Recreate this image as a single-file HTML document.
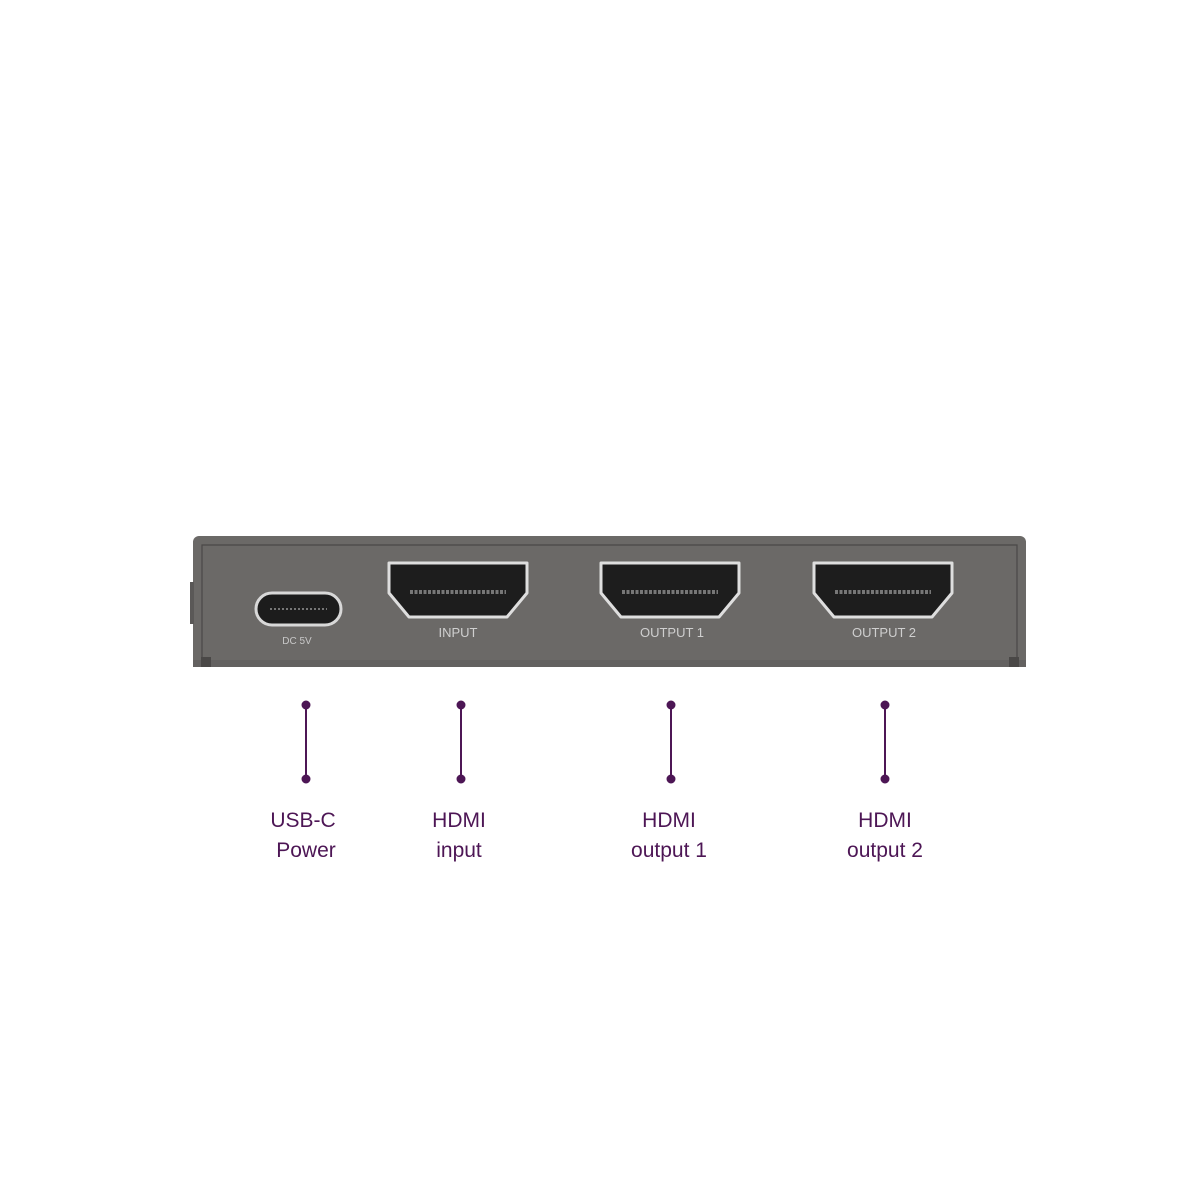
<!DOCTYPE html>
<html><head><style>body{margin:0;background:#fff}svg{display:block}</style></head><body>
<svg width="1200" height="1200" viewBox="0 0 1200 1200" xmlns="http://www.w3.org/2000/svg">
<rect width="1200" height="1200" fill="#fff"/>
<rect x="193" y="536" width="833" height="131" rx="6" fill="#6b6967"/>
<rect x="193" y="660" width="833" height="7" fill="#636160"/>
<path d="M202 667 V545 H1017 V667" fill="none" stroke="#4a4847" stroke-width="1.2"/>
<rect x="201" y="657" width="10" height="10" fill="#4a4847"/>
<rect x="1009" y="657" width="10" height="10" fill="#4a4847"/>
<rect x="190" y="582" width="4" height="42" fill="#5a5857"/>
<!-- USB-C -->
<rect x="256" y="593" width="85" height="32" rx="16" fill="#1c1c1c" stroke="#d8d8d8" stroke-width="3"/>
<line x1="270" y1="609" x2="327" y2="609" stroke="#777" stroke-width="2" stroke-dasharray="2 2"/>
<text x="297" y="644" font-family="Liberation Sans, sans-serif" font-size="10" fill="#c8c8c8" text-anchor="middle">DC 5V</text>
<!-- HDMI ports -->
<g id="h">
<path d="M389 563 H527 V593 L507 617 H409 L389 593 Z" fill="#1d1d1d" stroke="#dedede" stroke-width="3" stroke-linejoin="round"/>
<line x1="410" y1="592" x2="506" y2="592" stroke="#777" stroke-width="4" stroke-dasharray="3 1.5"/>
</g>
<use href="#h" x="212"/>
<use href="#h" x="425"/>
<g font-family="Liberation Sans, sans-serif" font-size="13" fill="#cfcfcf" text-anchor="middle">
<text x="458" y="637">INPUT</text>
<text x="672" y="637">OUTPUT 1</text>
<text x="884" y="637">OUTPUT 2</text>
</g>
<!-- connectors -->
<g stroke="#4d1655" stroke-width="2" fill="#4d1655">
<line x1="306" y1="705" x2="306" y2="779"/><circle cx="306" cy="705" r="3.5"/><circle cx="306" cy="779" r="3.5"/>
<line x1="461" y1="705" x2="461" y2="779"/><circle cx="461" cy="705" r="3.5"/><circle cx="461" cy="779" r="3.5"/>
<line x1="671" y1="705" x2="671" y2="779"/><circle cx="671" cy="705" r="3.5"/><circle cx="671" cy="779" r="3.5"/>
<line x1="885" y1="705" x2="885" y2="779"/><circle cx="885" cy="705" r="3.5"/><circle cx="885" cy="779" r="3.5"/>
</g>
<g font-family="Liberation Sans, sans-serif" font-size="21" fill="#4d1655" text-anchor="middle">
<text x="303" y="827">USB-C</text><text x="306" y="857">Power</text>
<text x="459" y="827">HDMI</text><text x="459" y="857">input</text>
<text x="669" y="827">HDMI</text><text x="669" y="857">output 1</text>
<text x="885" y="827">HDMI</text><text x="885" y="857">output 2</text>
</g>
</svg>
</body></html>
